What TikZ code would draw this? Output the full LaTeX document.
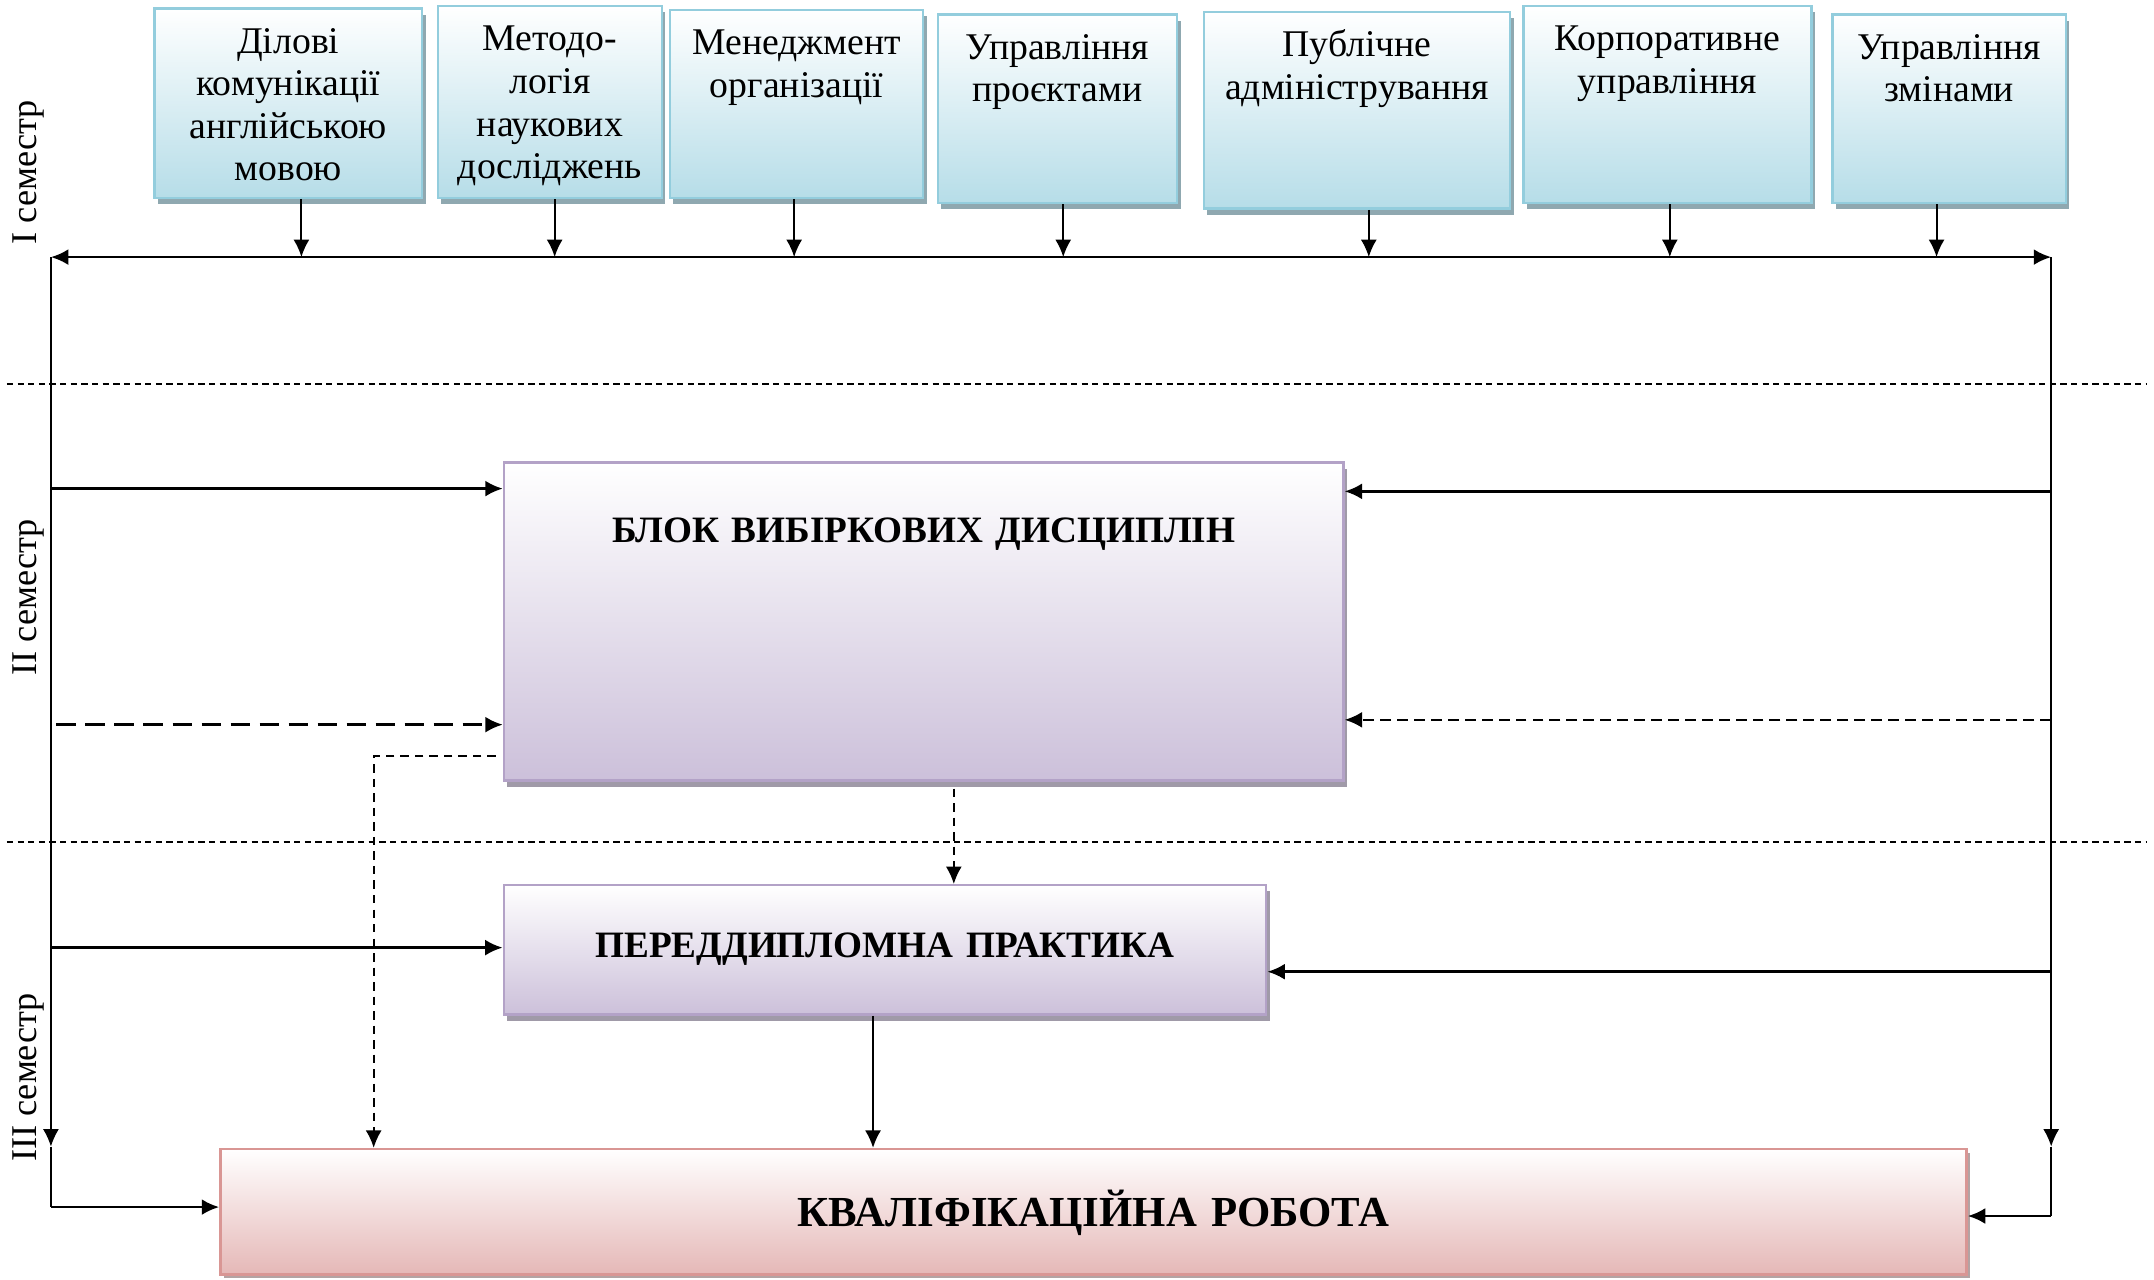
\documentclass[tikz,border=0pt]{standalone}
\usepackage{fontspec}
\setmainfont{Liberation Serif}
\usepackage{tikz}
\usetikzlibrary{arrows.meta,shadows}
\definecolor{SubjFill}{HTML}{B6DDE8}
\definecolor{SubjLine}{HTML}{93CDDD}
\definecolor{SubjShadow}{HTML}{8FA8B0}
\definecolor{BlockFill}{HTML}{CCC0DA}
\definecolor{BlockLine}{HTML}{B3A2C7}
\definecolor{BlockShadow}{HTML}{A09AA8}
\definecolor{WorkFill}{HTML}{E5B8B7}
\definecolor{WorkLine}{HTML}{D99694}
\definecolor{WorkShadow}{HTML}{B3A3A3}
\tikzset{
  subj/.style = {draw=SubjLine, line width=1pt, top color=white, bottom color=SubjFill,
    anchor=north, inner sep=0pt, align=center, text height=0.65cm,
    font=\fontsize{15.6}{17.6}\selectfont,
    drop shadow={shadow xshift=0.05cm, shadow yshift=-0.09cm, fill=SubjShadow, opacity=1}},% дисципліна
  block/.style = {draw=BlockLine, line width=1pt, top color=white, bottom color=BlockFill,
    anchor=north, inner sep=0pt, align=center,
    font=\fontsize{15.4}{18}\selectfont\bfseries,
    drop shadow={shadow xshift=0.05cm, shadow yshift=-0.09cm, fill=BlockShadow, opacity=1}},% блок
  work/.style = {draw=WorkLine, line width=1pt, top color=white, bottom color=WorkFill,
    anchor=north, inner sep=0pt, align=center,
    font=\fontsize{17.7}{21}\selectfont\bfseries,
    drop shadow={shadow xshift=0.05cm, shadow yshift=-0.06cm, fill=WorkShadow, opacity=1}},% кваліфікаційна робота
  sem/.style = {rotate=90, anchor=base, inner sep=0pt, font=\fontsize{15}{18}\selectfont},
  bus/.style = {line width=1.1pt},
  side/.style = {line width=0.6pt},
  link/.style = {line width=1.1pt, ->},
  fine/.style = {line width=0.8pt},
  sep/.style = {line width=0.6pt, dash pattern=on 2.6pt off 1.8pt},
  longdash/.style = {dash pattern=on 8pt off 4pt},
  middash/.style = {dash pattern=on 4.5pt off 2.5pt},
  shortdash/.style = {dash pattern=on 3.5pt off 2.5pt}
}
\begin{document}
\begin{tikzpicture}[x=0.02cm, y=-0.02cm, >={Latex[length=7.2pt,width=6.6pt]}]
  \useasboundingbox (0,0) rectangle (1565,929.3);
  % семестри
  \draw[sep] (5,279) -- (1560,279);
  \draw[sep] (5,611.7) -- (1560,611.7);
  \node[sem] (sem1) at (26.7,125) {I семестр};
  \node[sem] (sem2) at (26.7,434) {II семестр};
  \node[sem] (sem3) at (26.7,783) {III семестр};
  % дисципліни
  \node[subj, text width=3.89cm, text depth=2.10cm] (s1) at (209.5,5.3) {Ділові\\комунікації\\англійською\\мовою};
  \node[subj, text width=3.26cm, text depth=2.14cm] (s2) at (399.5,3.6) {Методо-\\логія\\наукових\\досліджень};
  \node[subj, text width=3.68cm, text depth=2.08cm] (s3) at (578.8,6.5) {Менеджмент\\організації};
  \node[subj, text width=3.48cm, text depth=2.09cm] (s4) at (768.3,9.7) {Управління\\проєктами};
  \node[subj, text width=4.45cm, text depth=2.21cm] (s5) at (985.9,7.7) {Публічне\\адміністрування};
  \node[subj, text width=4.19cm, text depth=2.21cm] (s6) at (1211.5,3.6) {Корпоративне\\управління};
  \node[subj, text width=3.39cm, text depth=2.09cm] (s7) at (1416.2,9.7) {Управління\\змінами};
  \node[block, text width=12.20cm, text height=1.16cm, text depth=3.46cm] (blok) at (671.1,335.2) {БЛОК ВИБІРКОВИХ ДИСЦИПЛІН};
  \node[block, text width=11.08cm, text height=1.05cm, text depth=0.83cm] (prac) at (643,642.3) {ПЕРЕДДИПЛОМНА ПРАКТИКА};
  \node[work, text width=25.38cm, text height=1.12cm, text depth=0.70cm] (kv) at (794.5,834) {КВАЛІФІКАЦІЙНА РОБОТА};
  % шина
  \coordinate (lt) at (37,186.8);
  \coordinate (rt) at (1490.3,186.8);
  \draw[bus, <->] (lt) -- (rt);
  \foreach \i/\x in {1/219,2/403,3/577,4/772.5,5/994.5,6/1213.2,7/1407}{
    \coordinate (t\i) at (\x,186.8);
    \draw[fine, ->] (s\i.south -| t\i) -- (t\i);
  }
  \coordinate (ld) at (37,833);
  \coordinate (lb) at (37,877);
  \draw[side, ->] (lt) -- (ld);
  \draw[side] (ld) -- (lb);
  \draw[link] (lb) -- (lb -| kv.west);
  \coordinate (rd) at (1490.3,833);
  \coordinate (rb) at (1490.3,883.5);
  \draw[side, ->] (rt) -- (rd);
  \draw[side] (rd) -- (rb);
  \draw[link] (rb) -- (rb -| kv.east);
  % входи блоків
  \coordinate (l1) at (37,355);
  \coordinate (l2) at (41,526.5);
  \coordinate (l3) at (37,688.5);
  \coordinate (r1) at (1490.3,357);
  \coordinate (r2) at (1490.3,523);
  \coordinate (r3) at (1490.3,706);
  \draw[link] (l1) -- (l1 -| blok.west);
  \draw[link, longdash] (l2) -- (l2 -| blok.west);
  \draw[link] (l3) -- (l3 -| prac.west);
  \draw[link] (r1) -- (r1 -| blok.east);
  \draw[link, middash] (r2) -- (r2 -| blok.east);
  \draw[link] (r3) -- (r3 -| prac.east);
  \coordinate (c1) at (693,600);
  \coordinate (c2) at (634.3,780);
  \coordinate (c3) at (271.5,549.3);
  \draw[fine, shortdash, ->] ([yshift=-0.1cm]c1 |- blok.south) -- (c1 |- prac.north);
  \draw[fine, ->] (c2 |- prac.south) -- (c2 |- kv.north);
  \draw[fine, shortdash, ->] ([xshift=-0.1cm]c3 -| blok.west) -- (c3) -- (c3 |- kv.north);
\end{tikzpicture}
\end{document}
